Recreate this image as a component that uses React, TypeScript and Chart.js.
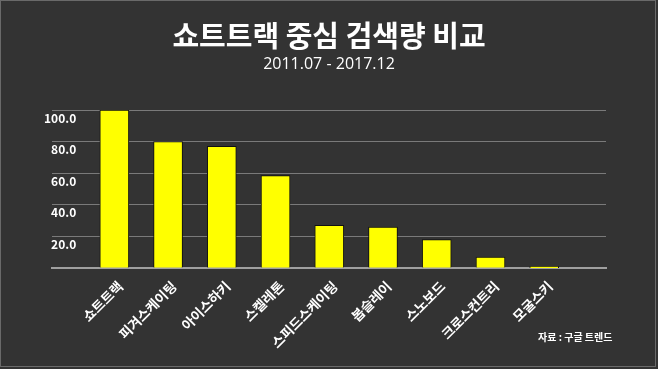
import React, { useEffect, useRef } from "react";
import { Chart, registerables } from "chart.js";

Chart.register(...registerables);

const categories = ["쇼트트랙", "피겨스케이팅", "아이스하키", "스켈레톤", "스피드스케이팅", "봅슬레이", "스노보드", "크로스컨트리", "모굴스키"];
const values = [100, 80, 77, 58.5, 27, 26, 18, 7, 1];
const yTicks = [0, 20, 40, 60, 80, 100];
const titleText = "쇼트트랙 중심 검색량 비교";
const subtitleText = "2011.07 - 2017.12";
const sourceText = "자료 : 구글 트렌드";

const KR = "'Noto Sans CJK KR', 'Noto Sans', sans-serif";

export default function App() {
  const ref = useRef<HTMLCanvasElement | null>(null);
  useEffect(() => {
    if (!ref.current) return;
    const chart = new Chart(ref.current, {
      type: "bar",
      data: {
        datasets: [
          {
            data: categories.map((c, i) => ({ x: i, y: values[i] })),
            backgroundColor: "#ffff00",
            borderColor: "#111111",
            borderWidth: 1,
            borderSkipped: "bottom",
            barThickness: 29,
          },
        ],
      },
      options: {
        animation: false,
        responsive: false,
        layout: { padding: { left: 52, right: 52, top: 0, bottom: 16 } },
        plugins: {
          legend: { display: false },
          tooltip: { enabled: false },
          title: {
            display: true,
            text: titleText,
            color: "#ffffff",
            font: { family: KR, size: 29, weight: "bold" },
            padding: { top: 19, bottom: 0 },
          },
          subtitle: {
            display: true,
            text: subtitleText,
            color: "#ffffff",
            font: { family: "'Open Sans', 'Noto Sans', sans-serif", size: 16, weight: "normal" },
            padding: { top: 1, bottom: 36 },
          },
        },
        scales: {
          x: {
            type: "linear",
            min: -1.16,
            max: 9.15,
            offset: false,
            grid: { display: false, offset: false },
            border: { display: true, color: "#a0a0a0", width: 2 },
            ticks: {
              stepSize: 1,
              autoSkip: false,
              maxRotation: 45,
              minRotation: 45,
              color: "#ffffff",
              padding: 2,
              labelOffset: 6,
              font: { family: KR, size: 13.5, weight: "bold" },
              callback: (v: any) => {
                const n = Number(v);
                return Number.isInteger(n) && n >= 0 && n < categories.length ? categories[n] : "";
              },
            },
          },
          y: {
            min: 0,
            max: 100,
            afterFit: (scale: any) => {
              scale.width = 0;
            },
            afterBuildTicks: (scale: any) => {
              scale.ticks = yTicks.map((v) => ({ value: v }));
            },
            grid: { color: "#7a7a7a", lineWidth: 1, drawTicks: false },
            border: { display: false },
            ticks: {
              mirror: true,
              crossAlign: "far",
              padding: -8,
              labelOffset: 8,
              color: "#ffffff",
              font: { family: KR, size: 12, weight: "bold" },
              callback: (v: any) => (Number(v) === 0 ? "" : Number(v).toFixed(1)),
            },
          },
        },
      },
    });
    return () => chart.destroy();
  }, []);

  return (
    <div style={{ position: "absolute", left: 0, top: 0, width: 658, height: 369, background: "#333333", overflow: "hidden" }}>
      <div style={{ position: "absolute", left: 0, top: 0, width: 656, height: 367, border: "1px solid #6a6a6a", boxSizing: "border-box" }} />
      <canvas ref={ref} width={658} height={369} style={{ position: "absolute", left: 0, top: 0, width: 658, height: 369 }} />
      <div style={{ position: "absolute", left: 538, top: 329, color: "#ffffff", fontFamily: KR, fontWeight: 700, fontSize: 10, whiteSpace: "nowrap" }}>{sourceText}</div>
    </div>
  );
}
